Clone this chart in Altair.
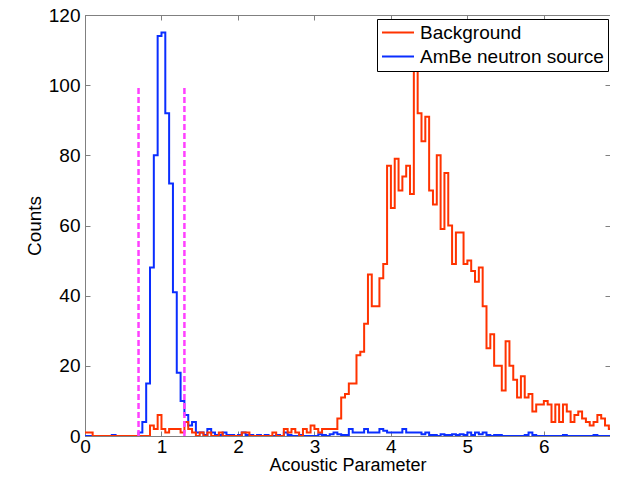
import altair as alt
import pandas as pd

# ---------------- data ----------------
BIN_WIDTH = 0.05
X_MAX = 6.865
series_names = ["Background", "AmBe neutron source"]
series_colors = ["#ff3300", "#0a2eff"]

background_counts = [
    1, 1, 0, 0, 0, 0, 0, 0, 0, 0,
    0, 0, 0, 0, 0, 0, 0, 3, 2, 6,
    2, 1, 2, 2, 2, 1, 4, 2, 1, 0,
    1, 0, 1, 0, 0, 1, 0, 0, 0, 0,
    0, 1, 1, 0, 0, 0, 0, 0, 0, 1,
    0, 0, 2, 1, 2, 1, 0, 2, 1, 3,
    2, 1, 2, 2, 2, 2, 5, 11, 12, 15,
    15, 23, 24, 32, 46, 37, 37, 45, 49, 77,
    65, 79, 70, 74, 77, 69, 108, 92, 84, 91,
    70, 66, 80, 59, 75, 60, 49, 58, 58, 49,
    50, 47, 44, 48, 37, 25, 29, 20, 20, 13,
    27, 20, 16, 11, 17, 11, 12, 7, 9, 9,
    10, 9, 4, 9, 4, 9, 7, 4, 6, 7,
    5, 4, 3, 4, 6, 5, 3, 2, 1, 1,
]

ambe_counts = [
    0, 0, 0, 0, 0, 0, 0, 0.3, 0, 0,
    0, 0, 0, 0, 1, 4, 15, 48, 80, 114,
    115, 92, 72, 41, 18, 10, 6, 3, 4, 1,
    1, 0.3, 2, 1, 0.3, 0.3, 1, 0.3, 0.3, 0,
    0.3, 1, 0.3, 0.3, 0, 0.3, 0, 0.3, 0, 0,
    0.3, 0, 1, 0.3, 0, 0, 0.3, 0, 0, 0,
    0, 0.5, 0.3, 0, 0.5, 1, 0.5, 0.3, 0.3, 2,
    1, 1, 1, 2, 1, 1, 1, 2, 1.5, 1,
    1, 1, 1, 2, 1, 1, 1, 1, 0.5, 1,
    0.3, 0.3, 0, 0.5, 0.3, 0.3, 0.5, 0.3, 0.5, 0.3,
    1, 0.3, 1, 0.5, 1, 0.3, 0, 0.3, 0.3, 0,
    0, 0, 0, 0, 0, 0.3, 1, 0.3, 0, 0,
    0, 0, 0, 0, 0, 0.3, 0, 0, 0, 0,
    0, 0, 0, 0.3, 0, 0, 0, 0, 0, 0,
]

cut_positions = [0.7, 1.3]
cut_height = 100
x_ticks = [0, 1, 2, 3, 4, 5, 6]
y_ticks = [0, 20, 40, 60, 80, 100, 120]

# ---------------- layout ----------------
W = 525
H = 421
GRAY = "#808080"
FONT = "Liberation Sans"


def steps(counts, name):
    rows = [{"x": round(i * BIN_WIDTH, 4), "count": c, "series": name}
            for i, c in enumerate(counts)]
    rows.append({"x": round(len(counts) * BIN_WIDTH, 4), "count": counts[-1], "series": name})
    return pd.DataFrame(rows)


df_bg = steps(background_counts, series_names[0])
df_ambe = steps(ambe_counts, series_names[1])
df_cut = pd.DataFrame({"x": cut_positions, "y0": [0] * len(cut_positions),
                       "y1": [cut_height] * len(cut_positions)})

x_scale = alt.Scale(domain=[0, X_MAX], nice=False, zero=False)
y_scale = alt.Scale(domain=[0, 120], nice=False)
color_scale = alt.Scale(domain=series_names, range=series_colors)

legend = alt.Legend(
    title=None, orient="none", legendX=292, legendY=4,
    strokeColor="black", fillColor="white", padding=4,
    labelFont=FONT, labelFontSize=19, labelColor="black", labelOffset=5,
    symbolType="stroke", symbolSize=1024, symbolStrokeWidth=2,
    clipHeight=19, rowPadding=4, labelLimit=400,
)

# main (labelled) axes
x_axis_main = alt.Axis(values=x_ticks, title="Acoustic Parameter", ticks=False, tickSize=0,
                       labelPadding=1, titlePadding=0, titleFontSize=18, domainColor=GRAY,
                       labelFlush=False, labelOverlap=False)
y_axis_main = alt.Axis(values=y_ticks, title="Counts", ticks=False, tickSize=0,
                       labelPadding=5, titlePadding=4, domainColor=GRAY)

# inward tick axes
x_axis_in_bottom = alt.Axis(values=x_ticks, orient="top", offset=-H, labels=False, domain=False,
                            tickSize=5, tickColor=GRAY, title=None)
y_axis_in_left = alt.Axis(values=y_ticks, orient="right", offset=-W, labels=False, domain=False,
                          tickSize=5, tickColor=GRAY, title=None)
x_axis_in_top = alt.Axis(values=x_ticks, orient="bottom", offset=-H, labels=False, domain=False,
                         tickSize=5, tickColor=GRAY, title=None)
y_axis_in_right = alt.Axis(values=y_ticks, orient="left", offset=-W, labels=False, domain=False,
                           tickSize=5, tickColor=GRAY, title=None)

ambe_line = alt.Chart(df_ambe).mark_line(interpolate="step-after", strokeWidth=2, clip=True).encode(
    x=alt.X("x:Q", scale=x_scale, axis=x_axis_main),
    y=alt.Y("count:Q", scale=y_scale, axis=y_axis_main),
    color=alt.Color("series:N", scale=color_scale, legend=legend),
)

bg_line = alt.Chart(df_bg).mark_line(interpolate="step-after", strokeWidth=2, clip=True).encode(
    x=alt.X("x:Q", scale=x_scale, axis=x_axis_in_bottom),
    y=alt.Y("count:Q", scale=y_scale, axis=y_axis_in_left),
    color=alt.Color("series:N", scale=color_scale, legend=legend),
)

cuts = alt.Chart(df_cut).mark_rule(color="#ff40ff", strokeWidth=2.5, strokeDash=[6, 3]).encode(
    x=alt.X("x:Q", scale=x_scale, axis=x_axis_in_top),
    y=alt.Y("y0:Q", scale=y_scale, axis=y_axis_in_right),
    y2="y1:Q",
)

chart = alt.layer(ambe_line, bg_line, cuts).resolve_axis(
    x="independent", y="independent"
).properties(
    width=W, height=H,
    autosize=alt.AutoSizeParams(type="none"),
    padding={"left": 77, "top": 7, "right": 0, "bottom": 38},
).configure_view(
    stroke=GRAY, strokeWidth=1
).configure_axis(
    grid=False, labelFont=FONT, labelFontSize=19, labelColor="black",
    titleFont=FONT, titleFontSize=19, titleFontWeight="normal", titleColor="black",
)

chart.save("out.html", embed_options={"renderer": "svg", "actions": False})
